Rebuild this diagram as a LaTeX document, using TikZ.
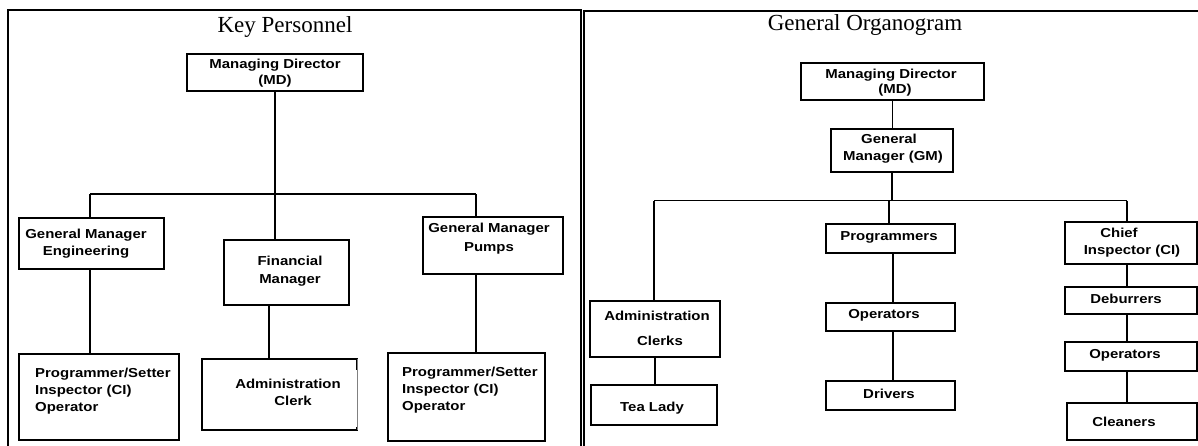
\documentclass[tikz,border=0pt]{standalone}
\usepackage{fontspec}
\setmainfont{Liberation Serif}
\newfontfamily\boxfont[FakeStretch=1.15]{Liberation Sans}
\begin{document}
\begin{tikzpicture}[x=1pt,y=-1pt,
  frame/.style={line width=2pt},
  box/.style={draw, line width=2.2pt, rectangle, inner sep=0pt},
  hollow/.style={rectangle, inner sep=0pt},
  link/.style={line width=1.9pt},
  lbl/.style={font=\boxfont\bfseries\fontsize{13}{17}\selectfont, align=center, inner sep=0pt},
  lbll/.style={lbl, align=left, anchor=west},
  heading/.style={font=\fontsize{23}{28}\selectfont, inner sep=0pt, anchor=base}]
\useasboundingbox (0,0) rectangle (1198,445);

% ---------- panel frames ----------
\draw[frame] (8,470) -- (8,10) -- (580.5,10) -- (580.5,470);
\draw[frame] (583.5,470) -- (583.5,11) -- (1210,11);

\node[heading] (t1) at (285,32) {Key Personnel};
\node[heading] (t2) at (865,30) {General Organogram};

% ---------- Key Personnel ----------
\node[box, minimum width=176pt, minimum height=37pt] (md1) at (275,72.5) {};
\node[lbl] (md1t) at (275,73) {Managing Director\\[-1pt](MD)};

\node[box, minimum width=145pt, minimum height=51pt] (gme) at (91.5,243.5) {};
\node[lbl] (gmet) at (86,244) {General Manager\\Engineering};

\node[box, minimum width=125pt, minimum height=65pt] (fm) at (286.5,272.5) {};
\node[lbl] (fmt) at (290,271) {Financial\\[1pt]Manager};

\node[box, minimum width=140.4pt, minimum height=57pt] (gmp) at (492.8,245.5) {};
\node[lbl] (gmpt) at (489,238.5) {General Manager\\[2pt]Pumps};

\node[box, minimum width=160pt, minimum height=86pt] (pl) at (99,397) {};
\node[lbll] (plt) at (35,391) {Programmer/Setter\\Inspector (CI)\\Operator};

\node[hollow, minimum width=155pt, minimum height=71pt] (ac) at (279.5,394.5) {};
\draw[line width=2.2pt] ([yshift=-11pt]ac.north east) -- (ac.north east) -- (ac.north west)
  -- (ac.south west) -- (ac.south east) -- ([yshift=3pt]ac.south east);
\draw[line width=0.5pt, gray] (ac.north east) -- (ac.south east);
\node[lbl] (act) at (288,392) {Administration\\\hspace*{10pt}Clerk};

\node[box, minimum width=157pt, minimum height=88pt] (pr) at (466.5,397) {};
\node[lbll] (prt) at (402,390.5) {Programmer/Setter\\Inspector (CI)\\Operator};

\coordinate (barL) at (90,194);
\coordinate (barR) at (476,194);
\coordinate (fmx) at (269,0);

\draw[link] (md1.south) -- (md1.south |- fm.north);
\draw[link] (barL) -- (barR);
\draw[link] (barL) -- (barL |- gme.north);
\draw[link] (barR) -- (barR |- gmp.north);
\draw[link] (gme.south -| barL) -- (pl.north -| barL);
\draw[link] (fm.south -| fmx) -- (ac.north -| fmx);
\draw[link] (gmp.south -| barR) -- (pr.north -| barR);

% ---------- General Organogram ----------
\node[box, minimum width=183pt, minimum height=37pt] (md2) at (892.5,81.5) {};
\node[lbl] (md2t) at (891,83) {Managing Director\\[-2pt]\hspace*{8pt}(MD)};

\node[box, minimum width=122pt, minimum height=43pt] (gm) at (892,150.5) {};
\node[lbl] (gmt) at (893,149) {\hspace*{-8pt}General\\Manager (GM)};

\node[box, minimum width=130pt, minimum height=56pt] (ac2) at (655,329) {};
\node[lbl] (ac2t) at (657,328) {Administration\\[8pt]\hspace*{6pt}Clerks};

\node[box, minimum width=126pt, minimum height=40pt] (tl) at (654,405) {};
\node[lbl] (tlt) at (652,408) {Tea Lady};

\node[box, minimum width=129pt, minimum height=29pt] (prg) at (890.5,238.5) {};
\node[lbl] (prgt) at (889,237) {Programmers};

\node[box, minimum width=129pt, minimum height=28pt] (op1) at (890.5,317) {};
\node[lbl] (op1t) at (884,315.5) {Operators};

\node[box, minimum width=129pt, minimum height=29pt] (drv) at (890.5,395.5) {};
\node[lbl] (drvt) at (889,393.5) {Drivers};

\node[box, minimum width=132pt, minimum height=42pt] (ci) at (1131,243) {};
\node[lbl] (cit) at (1132,242.5) {\hspace*{-26pt}Chief\\Inspector (CI)};

\node[box, minimum width=132pt, minimum height=27pt] (deb) at (1131,300.5) {};
\node[lbl] (debt) at (1126,298.5) {Deburrers};

\node[box, minimum width=132pt, minimum height=29pt] (op2) at (1131,356.5) {};
\node[lbl] (op2t) at (1125,355) {Operators};

\node[box, minimum width=130pt, minimum height=37pt] (cln) at (1132,421.5) {};
\node[lbl] (clnt) at (1124,421.5) {Cleaners};

\coordinate (bar2L) at (654,200.5);
\coordinate (bar2R) at (1127,200.5);
\coordinate (midx) at (893,0);

\draw[link] (md2.south) -- (gm.north -| md2.south);
\draw[link] (gm.south) -- (gm.south |- bar2L);
\draw[link] (bar2L) -- (bar2R);
\draw[link] (bar2L) -- (bar2L |- ac2.north);
\draw[link] ([xshift=-3pt]gm.south |- bar2L) -- ([xshift=-3pt]gm.south |- prg.north);
\draw[link] (bar2R) -- (bar2R |- ci.north);
\draw[link] (ac2.south) -- (ac2.south |- tl.north);
\draw[link] (prg.south -| midx) -- (op1.north -| midx);
\draw[link] (op1.south -| midx) -- (drv.north -| midx);
\draw[link] (ci.south -| bar2R) -- (deb.north -| bar2R);
\draw[link] (deb.south -| bar2R) -- (op2.north -| bar2R);
\draw[link] (op2.south -| bar2R) -- (cln.north -| bar2R);
\end{tikzpicture}
\end{document}
